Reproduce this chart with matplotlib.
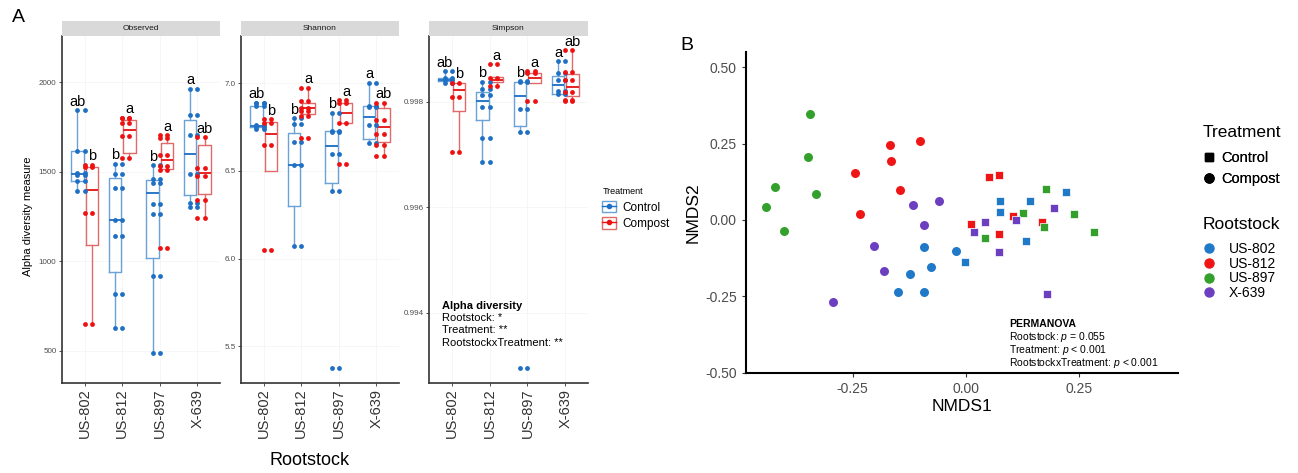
import numpy as np
import matplotlib.pyplot as plt
from matplotlib.lines import Line2D
from matplotlib.patches import Patch

plt.rcParams['font.family'] = ['Liberation Sans', 'DejaVu Sans']
plt.rcParams['mathtext.fontset'] = 'custom'
plt.rcParams['mathtext.rm'] = 'Liberation Sans'
plt.rcParams['mathtext.it'] = 'Liberation Sans:italic'

# ---------------- data ----------------
rootstocks = ['US-802', 'US-812', 'US-897', 'X-639']
treatments = ['Control', 'Compost']
metrics = ['Observed', 'Shannon', 'Simpson']

# box stats: (whisker low, q1, median, q3, whisker high)
obs_ctrl_box = [(1390, 1448, 1485, 1615, 1842), (628, 937, 1229, 1465, 1545),
                (489, 1018, 1381, 1452, 1535), (1303, 1370, 1597, 1786, 1963)]
obs_comp_box = [(652, 1093, 1396, 1526, 1539), (1576, 1604, 1734, 1790, 1801),
                (1511, 1517, 1565, 1662, 1703), (1243, 1375, 1494, 1649, 1693)]
obs_ctrl_pts = [[1842, 1615, 1490, 1480, 1448, 1390], [1545, 1489, 1411, 1229, 1139, 816, 628],
                [1535, 1461, 1437, 1321, 1264, 918, 489], [1963, 1814, 1703, 1489, 1325, 1303]]
obs_comp_pts = [[1539, 1526, 1270, 652], [1801, 1800, 1771, 1697, 1576],
                [1703, 1688, 1591, 1530, 1511, 1076], [1693, 1520, 1474, 1344, 1243]]

sha_ctrl_box = [(6.737, 6.752, 6.758, 6.872, 6.89), (6.07, 6.30, 6.535, 6.718, 6.80),
                (6.383, 6.434, 6.644, 6.73, 6.832), (6.657, 6.684, 6.81, 6.87, 7.004)]
sha_comp_box = [(6.50, 6.50, 6.71, 6.78, 6.796), (6.813, 6.823, 6.857, 6.89, 6.975),
                (6.762, 6.771, 6.832, 6.89, 6.905), (6.587, 6.665, 6.749, 6.861, 6.89)]
sha_ctrl_pts = [[6.89, 6.89, 6.87, 6.76, 6.75, 6.74], [6.80, 6.768, 6.668, 6.535, 6.07],
                [6.832, 6.73, 6.72, 6.598, 6.383, 5.375], [7.004, 6.87, 6.865, 6.762, 6.657]]
sha_comp_pts = [[6.796, 6.775, 6.646, 6.051], [6.975, 6.90, 6.857, 6.84, 6.813, 6.69],
                [6.905, 6.886, 6.771, 6.537], [6.89, 6.79, 6.709, 6.648, 6.587]]

sim_ctrl_box = [(0.998361, 0.998393, 0.998425, 0.998456, 0.998583),
                (0.996853, 0.997651, 0.998013, 0.998190, 0.998380),
                (0.997430, 0.997537, 0.998108, 0.998374, 0.998393),
                (0.998152, 0.998152, 0.998330, 0.998488, 0.998773)]
sim_comp_box = [(0.997043, 0.997822, 0.998222, 0.998360, 0.998361),
                (0.998310, 0.998387, 0.998425, 0.998470, 0.998470),
                (0.998360, 0.998360, 0.998456, 0.998551, 0.998583),
                (0.998013, 0.998108, 0.998285, 0.998532, 0.998976)]
sim_ctrl_pts = [[0.998583, 0.998450, 0.998425, 0.998361],
                [0.998380, 0.998247, 0.998140, 0.997900, 0.997315, 0.996853],
                [0.998393, 0.998374, 0.997873, 0.997430, 0.992960],
                [0.998773, 0.998539, 0.998412, 0.998203, 0.998152]]
sim_comp_pts = [[0.998361, 0.998089, 0.997043],
                [0.998716, 0.998456, 0.998310],
                [0.998583, 0.998551, 0.998025],
                [0.998976, 0.998564, 0.998412, 0.998184, 0.998044, 0.998013]]

ctrl_letters = ['ab', 'b', 'b', 'a']
comp_letters = ['b', 'a', 'a', 'ab']

# NMDS scores, one list per rootstock (US-802, US-812, US-897, X-639)
ctrl_nmds1 = [[-0.001, 0.077, 0.075, 0.142, 0.223, 0.133],
              [0.051, 0.073, 0.105, 0.013, 0.073, 0.170],
              [0.177, 0.127, 0.240, 0.044, 0.173, 0.285],
              [0.043, 0.018, 0.111, 0.195, 0.074, 0.180]]
ctrl_nmds2 = [[-0.139, 0.063, 0.027, 0.062, 0.093, -0.069],
              [0.140, 0.147, 0.014, -0.013, -0.047, -0.005],
              [0.103, 0.022, 0.019, -0.058, -0.022, -0.038],
              [-0.005, -0.040, 0.000, 0.040, -0.105, -0.243]]
comp_nmds1 = [[-0.093, -0.022, -0.077, -0.122, -0.149, -0.092],
              [-0.168, -0.102, -0.166, -0.245, -0.145, -0.234],
              [-0.344, -0.348, -0.421, -0.330, -0.441, -0.403],
              [-0.117, -0.058, -0.091, -0.203, -0.181, -0.294]]
comp_nmds2 = [[-0.090, -0.100, -0.153, -0.176, -0.236, -0.236],
              [0.245, 0.258, 0.194, 0.155, 0.099, 0.019],
              [0.347, 0.206, 0.108, 0.084, 0.044, -0.036],
              [0.048, 0.061, -0.015, -0.085, -0.167, -0.270]]

# ---------------- style ----------------
W, H = 1298, 473
ctrl_pt, ctrl_edge, ctrl_med = '#1f70c4', '#6aa2d8', '#2a78c8'
comp_pt, comp_edge, comp_med = '#ee1111', '#e06a6a', '#e82222'
rs_colors = ['#1f78c8', '#f01515', '#33a02c', '#6b3fc0']


def px_axes(l, t, w, h):
    return fig.add_axes([l / W, 1 - (t + h) / H, w / W, h / H])


fig = plt.figure(figsize=(W / 100, H / 100), dpi=100)

# ---------------- panel A ----------------
panels = [
    ('Observed', 62, 158, (320, 2257), [500, 1000, 1500, 2000], '{:.0f}',
     obs_ctrl_box, obs_comp_box, obs_ctrl_pts, obs_comp_pts),
    ('Shannon', 241, 158, (5.29, 7.27), [5.5, 6.0, 6.5, 7.0], '{:.1f}',
     sha_ctrl_box, sha_comp_box, sha_ctrl_pts, sha_comp_pts),
    ('Simpson', 429, 159, (0.99267, 0.99925), [0.994, 0.996, 0.998], '{:.3f}',
     sim_ctrl_box, sim_comp_box, sim_ctrl_pts, sim_comp_pts),
]
off, bw = 0.19, 0.33
pos = np.arange(1, len(rootstocks) + 1)

for (name, left, width, ylim, yt, fmt, cbox, pbox, cpts, ppts) in panels:
    ax = px_axes(left, 36, width, 347)
    for boxes, pts, shift, pc, ec, mc, letters in [
            (cbox, cpts, -off, ctrl_pt, ctrl_edge, ctrl_med, ctrl_letters),
            (pbox, ppts, off, comp_pt, comp_edge, comp_med, comp_letters)]:
        stats = [dict(whislo=b[0], q1=b[1], med=b[2], q3=b[3], whishi=b[4]) for b in boxes]
        ax.bxp(stats, positions=pos + shift, widths=bw, showfliers=False, showcaps=False,
               boxprops=dict(color=ec, lw=1.0), whiskerprops=dict(color=ec, lw=1.0),
               medianprops=dict(color=mc, lw=1.4), manage_ticks=False)
        for i, vals in enumerate(pts):
            ax.scatter(np.full(len(vals), pos[i] + shift), vals, s=12, color=pc, lw=0, zorder=3)
            ax.scatter(np.full(len(vals), pos[i]), vals, s=12, color=pc, lw=0, zorder=3)
            ax.annotate(letters[i], (pos[i] + shift, max(vals)), xytext=(0, 1),
                        textcoords='offset points', ha='center', va='bottom', fontsize=10.5)
    ax.set_xlim(0.4, 4.6)
    ax.set_ylim(*ylim)
    ax.set_xticks(pos)
    ax.set_xticklabels(rootstocks, rotation=90, fontsize=10.5)
    ax.set_yticks(yt)
    ax.set_yticklabels([fmt.format(v) for v in yt], fontsize=5.8, color='#4d4d4d')
    ax.tick_params(axis='both', length=2, width=0.6, colors='#333333', pad=2)
    ax.tick_params(axis='y', labelcolor='#4d4d4d')
    for s in ['top', 'right']:
        ax.spines[s].set_visible(False)
    for s in ['left', 'bottom']:
        ax.spines[s].set_color('#333333')
        ax.spines[s].set_linewidth(1.2)
    ax.grid(True, color='#f3f3f3', lw=0.5)
    ax.set_axisbelow(True)
    # facet strip
    st = px_axes(left, 21, width, 15)
    st.set_facecolor('#d9d9d9')
    st.set_xticks([])
    st.set_yticks([])
    for s in st.spines.values():
        s.set_visible(False)
    st.text(0.5, 0.5, name, ha='center', va='center', fontsize=6, color='#1a1a1a')
    if name == 'Simpson':
        ax.text(0.08, 0.222, 'Alpha diversity', transform=ax.transAxes, fontsize=8,
                fontweight='bold', va='center')
        for yy, line in zip([0.187, 0.153, 0.115],
                            ['Rootstock: *', 'Treatment: **', 'RootstockxTreatment: **']):
            ax.text(0.08, yy, line, transform=ax.transAxes, fontsize=8, va='center')

fig.text(28 / W, 1 - 216 / H, 'Alpha diversity measure', rotation=90, ha='center',
         va='center', fontsize=8)
fig.text(310 / W, 1 - 460 / H, 'Rootstock', ha='center', va='center', fontsize=13)
fig.text(18 / W, 1 - 18 / H, 'A', ha='center', va='center', fontsize=14)

leg_a = [(Patch(facecolor='white', edgecolor=ctrl_edge),
          Line2D([], [], color=ctrl_pt, marker='o', markersize=3, lw=1)),
         (Patch(facecolor='white', edgecolor=comp_edge),
          Line2D([], [], color=comp_pt, marker='o', markersize=3, lw=1))]
fig.text(603 / W, 1 - 191 / H, 'Treatment', ha='left', va='center', fontsize=6.5)
fig.legend(leg_a, treatments, loc='upper left',
           bbox_to_anchor=(602 / W, 1 - 201 / H), frameon=False, fontsize=8.5,
           handlelength=1.2, handleheight=1.1,
           handletextpad=0.5, labelspacing=0.3, borderpad=0, borderaxespad=0)

# ---------------- panel B ----------------
axb = px_axes(746, 52, 432, 321)
for i, c in enumerate(rs_colors):
    axb.scatter(comp_nmds1[i], comp_nmds2[i], s=42, marker='o', color=c, lw=0, zorder=3)
    axb.scatter(ctrl_nmds1[i], ctrl_nmds2[i], s=40, marker='s', color=c,
                edgecolor='white', lw=0.5, zorder=3)
axb.set_xlim(-0.486, 0.470)
axb.set_ylim(-0.501, 0.550)
axb.set_xticks([-0.25, 0.0, 0.25])
axb.set_yticks([-0.5, -0.25, 0.0, 0.25, 0.5])
axb.xaxis.set_major_formatter(plt.FormatStrFormatter('%.2f'))
axb.yaxis.set_major_formatter(plt.FormatStrFormatter('%.2f'))
axb.tick_params(labelsize=10, labelcolor='#4d4d4d', length=3, width=0.8, colors='#333333')
axb.tick_params(labelcolor='#4d4d4d')
for s in ['top', 'right']:
    axb.spines[s].set_visible(False)
for s in ['left', 'bottom']:
    axb.spines[s].set_linewidth(1.5)
axb.set_xlabel('NMDS1', fontsize=12.5, labelpad=2)
axb.set_ylabel('NMDS2', fontsize=12.5, labelpad=3)
axb.text(0.609, 0.153, 'PERMANOVA', transform=axb.transAxes, fontsize=7.5,
         fontweight='bold', va='center')
for yy, line in zip([0.112, 0.072, 0.031],
                    ['Rootstock: $\\mathit{p}$ = 0.055', 'Treatment: $\\mathit{p}$ < 0.001',
                     'RootstockxTreatment: $\\mathit{p}$ < 0.001']):
    axb.text(0.609, yy, line, transform=axb.transAxes, fontsize=7.5, va='center')
fig.text(687 / W, 1 - 45 / H, 'B', ha='center', va='center', fontsize=14)

fig.text(1203 / W, 1 - 132 / H, 'Treatment', ha='left', va='center', fontsize=12.5)
leg_t = [Line2D([], [], marker='s', color='black', lw=0, markersize=6),
         Line2D([], [], marker='o', color='black', lw=0, markersize=6.5)]
lt = fig.legend(leg_t, treatments, loc='upper left',
                bbox_to_anchor=(1202 / W, 1 - 151 / H), frameon=False, fontsize=10.5,
                handlelength=1.0, handletextpad=0.3, labelspacing=0.5,
                borderpad=0, borderaxespad=0)
fig.text(1203 / W, 1 - 224 / H, 'Rootstock', ha='left', va='center', fontsize=12.5)
leg_r = [Line2D([], [], marker='o', color=c, lw=0, markersize=6.5) for c in rs_colors]
fig.legend(leg_r, rootstocks, loc='upper left',
           bbox_to_anchor=(1202 / W, 1 - 242 / H), frameon=False, fontsize=10,
           handlelength=1.0, handletextpad=0.9, labelspacing=0.05,
           borderpad=0, borderaxespad=0)
fig.add_artist(lt)

fig.savefig('out.png', dpi=100, facecolor='white')
